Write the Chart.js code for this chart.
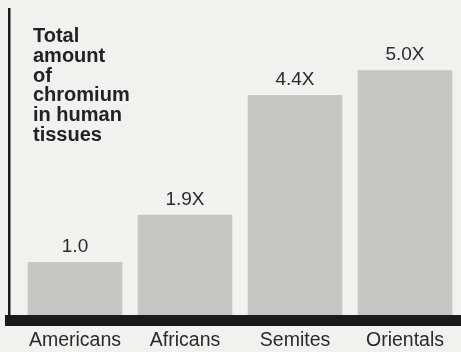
<!DOCTYPE html>
<html>
<head>
<meta charset="utf-8">
<script src="https://cdn.jsdelivr.net/npm/chart.js@4/dist/chart.umd.min.js"></script>
<style>
  html, body { margin: 0; padding: 0; background: #f1f1ef; }
  #wrap { width: 461px; height: 352px; position: relative; }
</style>
</head>
<body>
<div id="wrap"><canvas id="c" width="461" height="352"></canvas></div>
<script>
// Data
const categories = ["Americans", "Africans", "Semites", "Orientals"];
// printed labels on the bars
const valueLabels = ["1.0", "1.9X", "4.4X", "5.0X"];
// drawn bar heights (in units of the 1.0 bar), as they appear in the picture
const barHeights = [1.0, 1.89, 4.15, 4.62];
const titleLines = ["Total", "amount", "of", "chromium", "in human", "tissues"];

const FONT = "'Liberation Sans', Arial, Helvetica, sans-serif";

const decor = {
  id: 'decor',
  afterDatasetsDraw(chart) {
    const ctx = chart.ctx;
    const area = chart.chartArea;
    ctx.save();
    // left vertical axis line
    ctx.fillStyle = '#1c1c1c';
    ctx.fillRect(8, 8, 2.5, area.bottom - 8);
    // thick bottom band
    ctx.fillStyle = '#1a1a1a';
    ctx.fillRect(5, area.bottom, chart.width - 5, 11);
    // title text
    ctx.fillStyle = '#222';
    ctx.font = 'bold 20px ' + FONT;
    ctx.textAlign = 'left';
    ctx.textBaseline = 'alphabetic';
    titleLines.forEach((t, i) => ctx.fillText(t, 33, 42 + i * 19.8));
    // value labels above bars
    ctx.fillStyle = '#2a2a2a';
    ctx.font = '19px ' + FONT;
    ctx.textAlign = 'center';
    ctx.textBaseline = 'bottom';
    const meta = chart.getDatasetMeta(0);
    meta.data.forEach((bar, i) => {
      ctx.fillText(valueLabels[i], bar.x, bar.y - 6);
    });
    ctx.restore();
  }
};

new Chart(document.getElementById('c'), {
  type: 'bar',
  data: {
    labels: categories,
    datasets: [{
      data: barHeights,
      backgroundColor: '#c6c6c5',
      borderWidth: 0,
      barPercentage: 0.86,
      categoryPercentage: 1.0
    }]
  },
  options: {
    responsive: false,
    animation: false,
    devicePixelRatio: 1,
    layout: { padding: { left: 20, right: 1, top: 50, bottom: 0 } },
    plugins: { legend: { display: false }, tooltip: { enabled: false } },
    scales: {
      x: {
        grid: { display: false, drawTicks: false },
        border: { display: false },
        ticks: { color: '#2a2a2a', font: { family: FONT, size: 19.5 }, padding: 14, maxRotation: 0, autoSkip: false },
        afterFit(scale) { scale.height = 37; }
      },
      y: {
        display: false,
        min: 0, max: 5
      }
    }
  },
  plugins: [decor]
});
</script>
</body>
</html>
